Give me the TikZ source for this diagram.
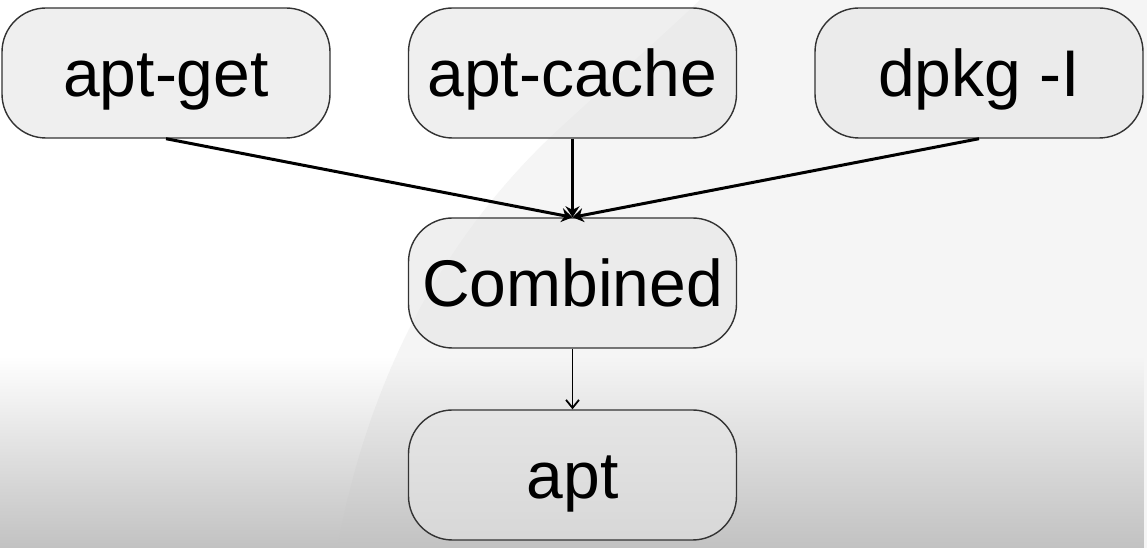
\documentclass[tikz,border=0pt]{standalone}
\usepackage{fontspec}
\setmainfont{Liberation Sans}
\usetikzlibrary{arrows.meta,fadings}
\tikzfading[name=botfade, top color=transparent!100, bottom color=transparent!0]
\begin{document}
\begin{tikzpicture}[x=1pt,y=1pt,
  box/.style={draw=black!80, line width=1.4pt, rounded corners=44pt,
    minimum width=328pt, minimum height=130pt, fill=black!10, fill opacity=0.6,
    draw opacity=1, text opacity=1, font=\fontsize{66}{72}\selectfont, inner sep=0pt,
    text height=48pt, text depth=0pt},
  conv/.style={line width=3pt, -{Stealth[length=11pt,width=14pt]}},
  down/.style={line width=1.8pt, -{Straight Barb[length=8pt,width=13pt]}}]
\useasboundingbox (0,0) rectangle (1147,548);
\fill[white] (0,0) rectangle (1147,548);
\fill[black!4] (337,0) .. controls (365,150) and (430,300) .. (560,420)
  .. controls (620,475) and (660,510) .. (700,548) -- (1147,548) -- (1147,0) -- cycle;
\fill[black!24, path fading=botfade] (0,0) rectangle (1147,190);
\node[box] (get) at (166,475) {apt-get};
\node[box] (cache) at (572.5,475) {apt-cache};
\node[box] (dpkg) at (979,475) {dpkg -I};
\node[box] (comb) at (572.5,265) {Combined};
\node[box] (apt) at (572.5,73) {apt};
\draw[conv] (get.south) -- (comb.north);
\draw[conv] (cache.south) -- (comb.north);
\draw[conv] (dpkg.south) -- (comb.north);
\draw[down] (comb.south) -- (apt.north);
\end{tikzpicture}
\end{document}
